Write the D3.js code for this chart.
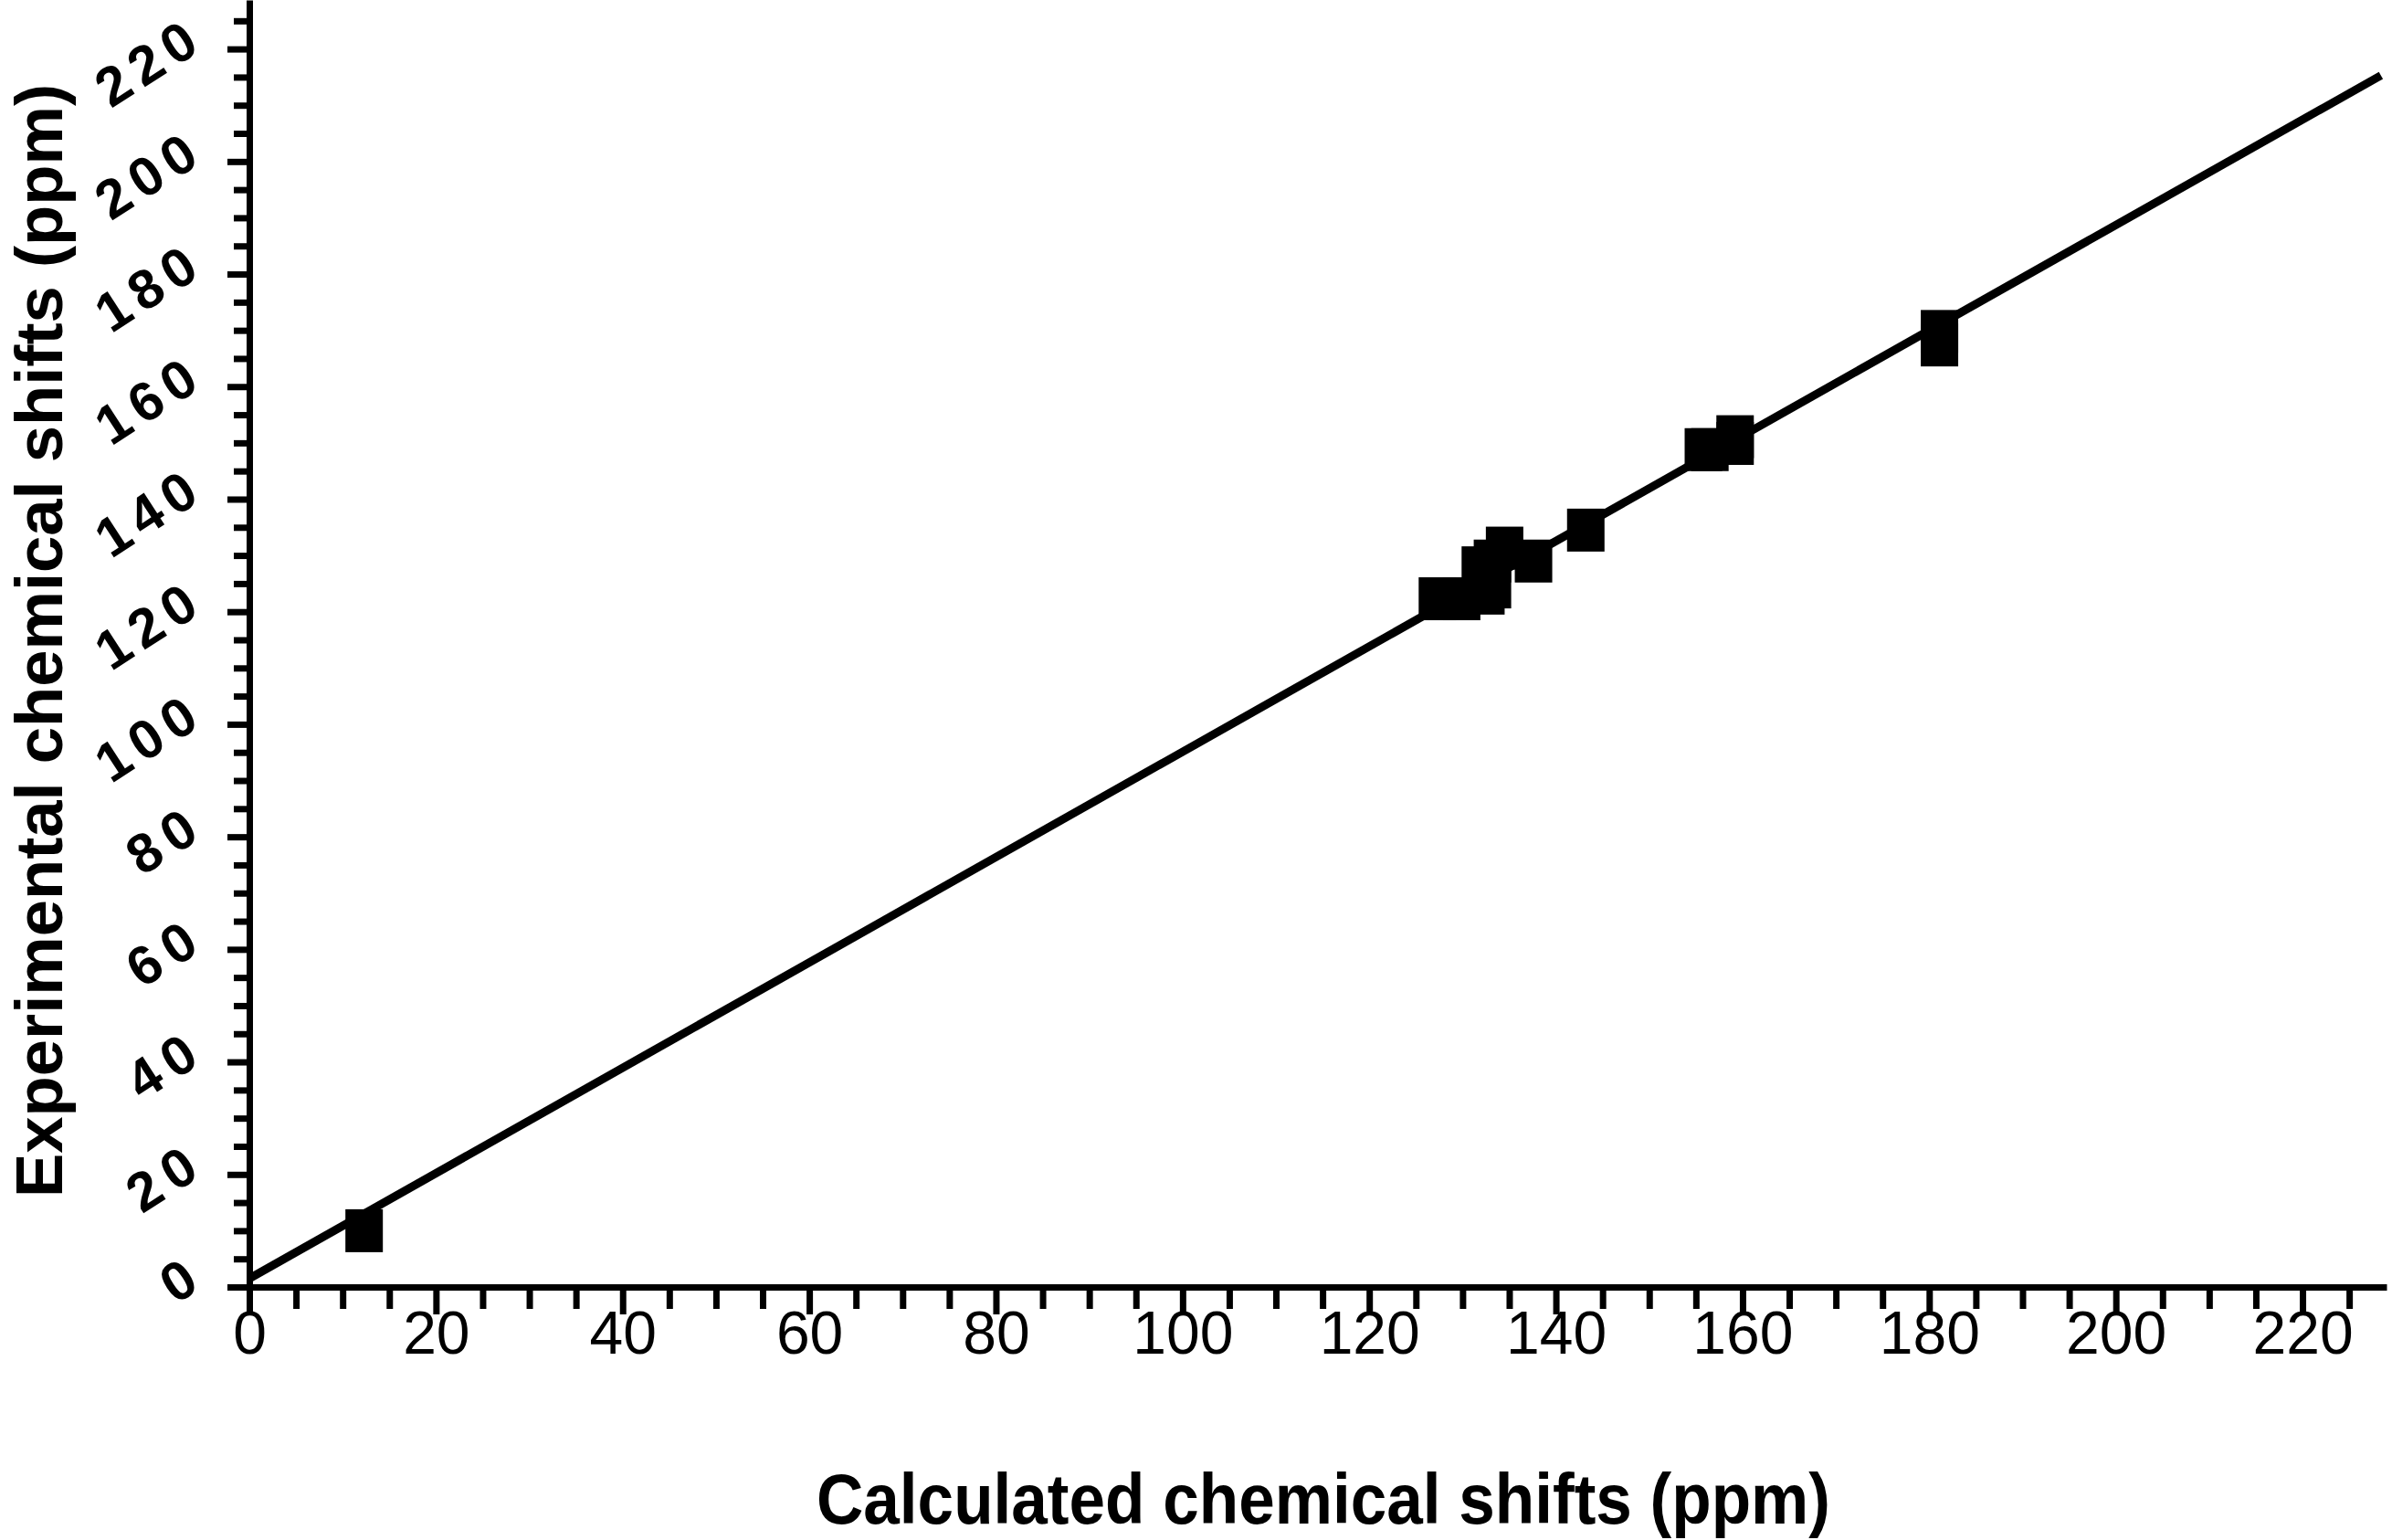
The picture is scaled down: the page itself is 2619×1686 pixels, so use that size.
<!DOCTYPE html>
<html>
<head>
<meta charset="utf-8">
<script src="https://cdn.jsdelivr.net/npm/d3@7/dist/d3.min.js"></script>
<style>
  html, body { margin: 0; padding: 0; background: #fff; }
  svg { display: block; }
</style>
</head>
<body>
<svg id="chart" width="2619" height="1686"></svg>
<script>
// ---- data ----
const calcShifts = [12.3, 127.3, 129.9, 132.5, 133.2, 131.9, 133.2, 134.5, 137.6, 143.2, 155.8, 156.5, 159.2, 159.2, 181.1, 181.1];
const expShifts  = [10.0, 122.3, 122.3, 123.3, 124.4, 127.8, 129.0, 131.3, 129.0, 134.5, 148.8, 148.8, 151.1, 149.9, 169.8, 167.4];
const fitX = [0, 228.4];
const fitY = [1.5, 215.3];
const xTicks = [0, 20, 40, 60, 80, 100, 120, 140, 160, 180, 200, 220];
const yTicks = [0, 20, 40, 60, 80, 100, 120, 140, 160, 180, 200, 220];
const minorTicks = [5, 10, 15, 25, 30, 35, 45, 50, 55, 65, 70, 75, 85, 90, 95, 105, 110, 115, 125, 130, 135, 145, 150, 155, 165, 170, 175, 185, 190, 195, 205, 210, 215, 225];
const xTitle = "Calculated chemical shifts (ppm)";
const yTitle = "Experimental chemical shifts (ppm)";

// ---- layout ----
const FONT = "'Liberation Sans', Arial, sans-serif";
const svg = d3.select("#chart");
svg.append("rect").attr("width", 2619).attr("height", 1686).attr("fill", "#fff");

const x = d3.scaleLinear().domain([0, 229]).range([273, 2613]);
const y = d3.scaleLinear().domain([0, 228.7]).range([1409, 0]);

// fit line
const line = d3.line().x(d => x(d[0])).y(d => y(d[1]));
svg.append("path")
  .datum(fitX.map((v, i) => [v, fitY[i]]))
  .attr("d", line)
  .attr("fill", "none")
  .attr("stroke", "#000")
  .attr("stroke-width", 9);

// markers
const MW = 41, MH = 47;
svg.append("g").selectAll("rect")
  .data(calcShifts.map((v, i) => [v, expShifts[i]]))
  .join("rect")
  .attr("x", d => x(d[0]) - MW / 2)
  .attr("y", d => y(d[1]) - MH / 2)
  .attr("width", MW)
  .attr("height", MH)
  .attr("fill", "#000");

function styleAxis(g) {
  g.select(".domain").attr("stroke", "#000").attr("stroke-width", 7);
  g.selectAll(".tick line").attr("stroke", "#000").attr("stroke-width", 7);
}

// x axis minor
const gxMinor = svg.append("g").attr("transform", "translate(0,1409)")
  .call(d3.axisBottom(x).tickValues(minorTicks).tickSize(24).tickSizeOuter(0).tickFormat(""));
styleAxis(gxMinor);
gxMinor.select(".domain").remove();
// x axis major
const gx = svg.append("g").attr("transform", "translate(0,1409)")
  .call(d3.axisBottom(x).tickValues(xTicks).tickSize(30).tickSizeOuter(0).tickFormat(d3.format("d")));
styleAxis(gx);
gx.selectAll(".tick text")
  .attr("y", 26)
  .attr("dy", "0.71em")
  .attr("fill", "#000")
  .style("font-family", FONT)
  .style("font-size", "66px");

// y axis minor
const gyMinor = svg.append("g").attr("transform", "translate(273,0)")
  .call(d3.axisLeft(y).tickValues(minorTicks).tickSize(17).tickSizeOuter(0).tickFormat(""));
styleAxis(gyMinor);
gyMinor.select(".domain").remove();
// y axis major
const gy = svg.append("g").attr("transform", "translate(273,0)")
  .call(d3.axisLeft(y).tickValues(yTicks).tickSize(24).tickSizeOuter(0).tickFormat(d3.format("d")));
styleAxis(gy);
gy.selectAll(".tick text")
  .attr("x", 0).attr("y", 0).attr("dy", null)
  .attr("text-anchor", "end")
  .attr("dominant-baseline", "central")
  .attr("transform", "translate(-64,-16) rotate(-33)")
  .attr("fill", "#000")
  .style("font-family", FONT)
  .style("font-weight", "bold")
  .style("font-size", "60px")
  .each(function(d) {
    const s = String(d);
    if (s.length > 1) d3.select(this).attr("textLength", s.length * 40.5 - 4).attr("lengthAdjust", "spacing");
  });

// titles
svg.append("text")
  .attr("x", 1449).attr("y", 1668)
  .attr("text-anchor", "middle")
  .attr("textLength", 1110).attr("lengthAdjust", "spacingAndGlyphs")
  .style("font-family", FONT).style("font-weight", "bold").style("font-size", "77px")
  .attr("fill", "#000")
  .text(xTitle);

svg.append("text")
  .attr("transform", "translate(68,701.5) rotate(-90)")
  .attr("text-anchor", "middle")
  .attr("textLength", 1219).attr("lengthAdjust", "spacingAndGlyphs")
  .style("font-family", FONT).style("font-weight", "bold").style("font-size", "72px")
  .attr("fill", "#000")
  .text(yTitle);
</script>
</body>
</html>
